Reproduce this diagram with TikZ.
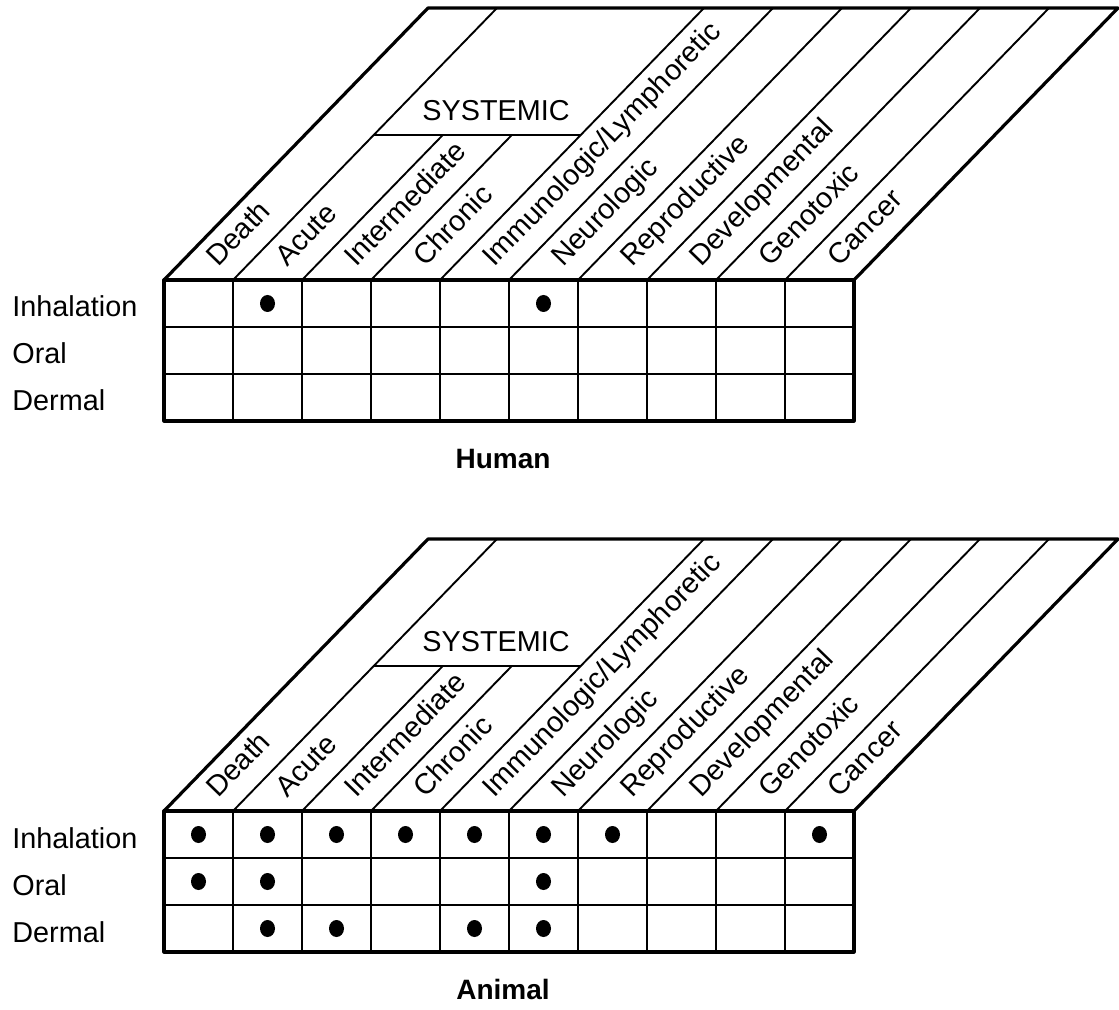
\documentclass[tikz,border=0pt]{standalone}
\usepackage{fontspec}
\setmainfont{Liberation Sans}

\tikzset{
  thinline/.style={line width=0.95pt},
  thickline/.style={line width=1.6pt, line join=round},
  lbl/.style={font=\fontsize{14.4}{16}\selectfont, inner sep=0pt},
  collbl/.style={lbl, rotate=45.85, anchor=base west},
  titlelbl/.style={lbl, font=\fontsize{14}{16}\selectfont\bfseries, anchor=base},
  dot/.style={fill=black},
}

\begin{document}
\begin{tikzpicture}[x=0.5pt,y=0.5pt]
  \useasboundingbox (0,0) rectangle (1119,-1010);
  \foreach \k/\kind in {0/Human,1/Animal} {
  \begin{scope}[shift={(0,{-531*\k})}]
    % grid
    \foreach \i in {1,...,9} \draw[thinline] ({164+69*\i},-280) -- ++(0,-141);
    \foreach \j in {1,2} \draw[thinline] (164,{-280-47*\j}) -- ++(690,0);
    \draw[thickline] (164,-280) rectangle (854,-421);
    % slanted header
    \foreach \i in {1,4,5,6,7,8,9} \draw[thinline] ({164+69*\i},-280) -- ++(264,272);
    \foreach \i in {2,3} \draw[thinline] ({164+69*\i},-280) -- ++(140.8,145);
    \draw[thinline] (373.8,-135) -- (580.8,-135);
    \draw[thickline] (164,-280) -- ++(264,272) -- ++(690,0) -- (854,-280);
    \node[lbl] (sys\k) at (496,-111) {SYSTEMIC};
    \foreach \ep [count=\i from 0] in {Death,Acute,Intermediate,Chronic,
        {Immunologic/Lymphoretic},Neurologic,Reproductive,Developmental,
        Genotoxic,Cancer}
      \node[collbl] (ep\k-\i) at ({164+69*\i+54},-268) {\ep};
    \foreach \rt [count=\j from 0] in {Inhalation,Oral,Dermal}
      \node[lbl, anchor=base west] (route\k-\j) at (12,{-317-47*\j}) {\rt};
    \node[titlelbl] (title\k) at (503,-468) {\kind};
  \end{scope}
  }
  % human findings
  \foreach \c/\r in {1/0,5/0}
    \fill[dot] ({198.5+69*\c},{-303.5-47*\r}) ellipse [x radius=7.5, y radius=8.5];
  % animal findings
  \foreach \c/\r in {0/0,1/0,2/0,3/0,4/0,5/0,6/0,9/0,0/1,1/1,5/1,1/2,2/2,4/2,5/2}
    \fill[dot] ({198.5+69*\c},{-834.5-47*\r}) ellipse [x radius=7.5, y radius=8.5];
\end{tikzpicture}
\end{document}
